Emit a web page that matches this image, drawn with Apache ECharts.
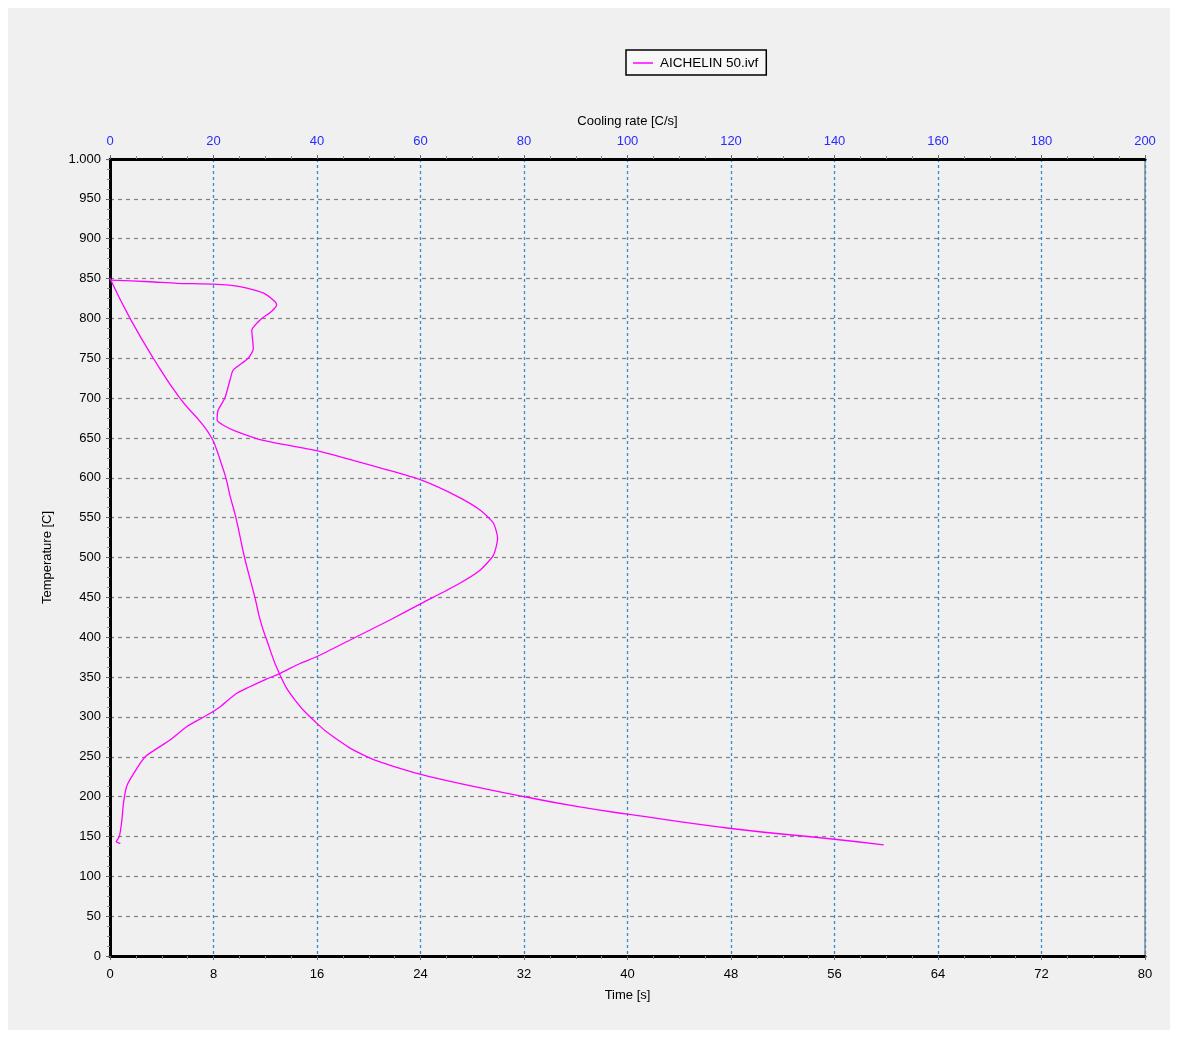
<!DOCTYPE html>
<html>
<head>
<meta charset="utf-8">
<script src="https://cdn.jsdelivr.net/npm/echarts@6/dist/echarts.min.js"></script>
<style>
html,body{margin:0;padding:0;background:#ffffff;}
#bg{position:absolute;left:8px;top:8px;width:1162px;height:1022px;background:#f0f0f0;}
#chart{position:absolute;left:0;top:0;width:1178px;height:1037px;}
</style>
</head>
<body>
<div id="bg"></div>
<div id="chart"></div>
<script>
// Temperature vs time (bottom axis)
const timeSeconds = [0, 1.55, 3.35, 5.4, 7.1, 7.86, 8.25, 8.6, 8.97, 9.3, 9.74, 10.4, 11.2, 11.6, 12.1, 13.14, 14.3, 15.72, 17.26, 19.6, 21.6, 24.7, 32, 36.3, 40, 48, 56, 59.8];
const timeTemps   = [850, 800, 750, 700, 668, 650, 635, 618, 599, 576, 549.5, 500, 450, 422, 397, 352.6, 321, 296, 275, 252, 239.6, 225, 200, 187, 178, 160, 146.5, 139.5];

// Temperature vs cooling rate (top axis)
const rateValues = [0.1, 7.7, 12.9, 20, 25.1, 29.6, 31.9, 32.2, 31.2, 29, 27.4, 27.7, 26.7, 23.8, 23.2, 22.2, 20.9, 20.7, 21.9, 24.5, 29.6, 39.9, 53.5, 60.2, 67, 71.5, 74.1, 74.9, 74.1, 71.5, 67, 60.2, 54.1, 46.4, 39.9, 36.7, 32.9, 30.3, 24.5, 21.3, 18.7, 14.8, 11.6, 6.8, 4.2, 3.2, 2.6, 2.3, 1.8, 1.2, 2.0];
const rateTemps  = [848, 846, 844, 843, 840, 832, 821, 817, 808.6, 798, 785, 762, 750, 735, 723, 700, 685, 672.5, 666, 658, 647, 634, 610, 597, 577, 559.6, 543, 524, 503, 484, 465.5, 442.5, 421.6, 396.5, 375.5, 367, 354.7, 347.6, 329.6, 312.8, 302, 287.7, 271, 250, 225, 212.4, 191.6, 170.6, 149.7, 143.4, 141.4];

const seriesName = 'AICHELIN 50.ivf';
const timeAxis = {min: 0, max: 80, interval: 8};
const rateAxis = {min: 0, max: 200, interval: 20};
const tempAxis = {min: 0, max: 1000, interval: 50};

const FONT = 'Liberation Sans, Arial, sans-serif';
const zip = (a, b) => a.map((v, i) => [v, b[i]]);

const chart = echarts.init(document.getElementById('chart'), null, {renderer: 'canvas'});
chart.setOption({
  backgroundColor: 'transparent',
  animation: false,
  textStyle: {fontFamily: FONT},
  legend: {
    data: [{name: seriesName, icon: 'rect'}],
    left: 626, top: 50,
    padding: [6, 8, 5, 7],
    borderColor: '#000', borderWidth: 1.5,
    backgroundColor: '#f7f7f7',
    itemWidth: 20, itemHeight: 1.5, itemGap: 6,
    itemStyle: {color: '#ff00ff'},
    textStyle: {fontFamily: FONT, fontSize: 13.5, color: '#000', padding: [0, 0, 0, 2]}
  },
  grid: {left: 110, top: 159, width: 1035, height: 797, show: true, borderColor: '#555', borderWidth: 1},
  xAxis: [
    {
      type: 'value', position: 'bottom', min: timeAxis.min, max: timeAxis.max, interval: timeAxis.interval,
      name: 'Time [s]', nameLocation: 'middle', nameGap: 33,
      nameTextStyle: {fontFamily: FONT, fontSize: 13, color: '#000'},
      axisLine: {show: true, onZero: false, lineStyle: {color: '#000', width: 3}},
      axisTick: {show: true, length: 4, lineStyle: {color: '#666'}},
      minorTick: {show: true, splitNumber: 4, length: 3, lineStyle: {color: '#888'}},
      axisLabel: {fontFamily: FONT, fontSize: 13, color: '#000', margin: 12},
      splitLine: {show: false}
    },
    {
      type: 'value', position: 'top', min: rateAxis.min, max: rateAxis.max, interval: rateAxis.interval,
      name: 'Cooling rate [C/s]', nameLocation: 'middle', nameGap: 31,
      nameTextStyle: {fontFamily: FONT, fontSize: 13, color: '#000'},
      axisLine: {show: true, onZero: false, lineStyle: {color: '#000', width: 3}},
      axisTick: {show: true, length: 4, lineStyle: {color: '#666'}},
      minorTick: {show: true, splitNumber: 4, length: 3, lineStyle: {color: '#888'}},
      axisLabel: {fontFamily: FONT, fontSize: 13, color: '#2b2bff', margin: 11},
      splitLine: {show: true, lineStyle: {color: '#2f8ecf', type: [3, 3], width: 1.3}}
    }
  ],
  yAxis: [{
    type: 'value', min: tempAxis.min, max: tempAxis.max, interval: tempAxis.interval,
    name: 'Temperature [C]', nameLocation: 'middle', nameGap: 56, nameRotate: 90,
    nameTextStyle: {fontFamily: FONT, fontSize: 13, color: '#000'},
    axisLine: {show: true, onZero: false, lineStyle: {color: '#000', width: 3}},
    axisTick: {show: true, length: 4, lineStyle: {color: '#666'}},
    minorTick: {show: true, splitNumber: 4, length: 3, lineStyle: {color: '#888'}},
    axisLabel: {
      fontFamily: FONT, fontSize: 13, color: '#000', margin: 9,
      formatter: v => v >= 1000 ? Math.floor(v / 1000) + '.' + String(v % 1000).padStart(3, '0') : String(v)
    },
    splitLine: {show: true, lineStyle: {color: '#808080', type: [4, 4], width: 1.2}}
  }],
  series: [
    {
      name: seriesName, type: 'line', xAxisIndex: 0, yAxisIndex: 0,
      data: zip(timeSeconds, timeTemps), symbol: 'none', smooth: 0.5,
      lineStyle: {color: '#ff00ff', width: 1.3}, itemStyle: {color: '#ff00ff'}
    },
    {
      name: seriesName, type: 'line', xAxisIndex: 1, yAxisIndex: 0,
      data: zip(rateValues, rateTemps), symbol: 'none', smooth: 0.2,
      lineStyle: {color: '#ff00ff', width: 1.3}, itemStyle: {color: '#ff00ff'}
    }
  ]
});
</script>
</body>
</html>
